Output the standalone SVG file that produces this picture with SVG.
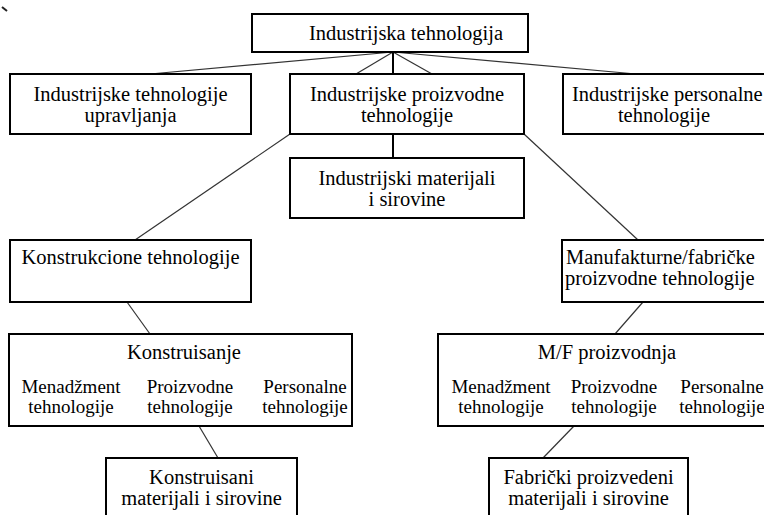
<svg xmlns="http://www.w3.org/2000/svg" width="764" height="515" viewBox="0 0 764 515">
<style>
.box{fill:#fff;stroke:#000;stroke-width:2}
text{font-family:'Liberation Serif','DejaVu Serif','Noto Serif',serif;fill:#000;text-anchor:middle}
.t{font-size:20.5px}
.s{font-size:19px}
.ln{stroke:#333;stroke-width:1.2;fill:none}
.lv{stroke:#000;stroke-width:2;fill:none}
</style>
<rect width="764" height="515" fill="#fff"/>
<path d="M2,7 L7,11" stroke="#222" stroke-width="2"/>
<g id="connectors">
<line class="ln" x1="393" y1="52" x2="150" y2="74"/>
<line class="ln" x1="393" y1="52" x2="636" y2="74"/>
<line class="ln" x1="393" y1="52" x2="356" y2="74"/>
<line class="ln" x1="393" y1="52" x2="432" y2="74"/>
<line class="lv" x1="393" y1="52" x2="393" y2="74"/>
<line class="lv" x1="393" y1="134" x2="393" y2="158"/>
<line class="ln" x1="290" y1="134" x2="135" y2="240"/>
<line class="ln" x1="524" y1="134" x2="638" y2="240"/>
<line class="ln" x1="127" y1="302" x2="150" y2="334"/>
<line class="ln" x1="643" y1="302" x2="615" y2="334"/>
<line class="ln" x1="199" y1="426" x2="218" y2="458"/>
<line class="ln" x1="574" y1="426" x2="543" y2="458"/>
</g>
<g font-family="Liberation Serif, DejaVu Serif, serif">
<g id="n-root">
<rect class="box" x="252" y="14" width="276" height="38"/>
<text class="t" x="406" y="39.5">Industrijska tehnologija</text>
</g>
<g id="n-upravljanja">
<rect class="box" x="10" y="74" width="241" height="60"/>
<text class="t" x="130.5" y="100.5">Industrijske tehnologije</text>
<text class="t" x="130.5" y="121.5">upravljanja</text>
</g>
<g id="n-proizvodne">
<rect class="box" x="290" y="74" width="234" height="60"/>
<text class="t" x="407" y="100.5">Industrijske proizvodne</text>
<text class="t" x="407" y="121.5">tehnologije</text>
</g>
<g id="n-personalne">
<rect class="box" x="563" y="74" width="210" height="60"/>
<text class="t" x="572" y="100.5" style="text-anchor:start">Industrijske personalne</text>
<text class="t" x="664" y="121.5">tehnologije</text>
</g>
<g id="n-materijali">
<rect class="box" x="290" y="158" width="234" height="60"/>
<text class="t" x="407" y="184.5">Industrijski materijali</text>
<text class="t" x="407" y="205.5">i sirovine</text>
</g>
<g id="n-konstrukcione">
<rect class="box" x="10" y="240" width="241" height="62"/>
<text class="t" x="130.5" y="264">Konstrukcione tehnologije</text>
</g>
<g id="n-manufakturne">
<rect class="box" x="562" y="240" width="210" height="62"/>
<text class="t" x="566" y="264" style="text-anchor:start">Manufakturne/fabričke</text>
<text class="t" x="565" y="285" style="text-anchor:start">proizvodne tehnologije</text>
</g>
<g id="n-konstruisanje">
<rect class="box" x="9" y="334" width="343" height="92"/>
<text class="t" x="184" y="359">Konstruisanje</text>
<text class="s" x="71" y="393">Menadžment</text>
<text class="s" x="71" y="413">tehnologije</text>
<text class="s" x="190" y="393">Proizvodne</text>
<text class="s" x="190" y="413">tehnologije</text>
<text class="s" x="305" y="393">Personalne</text>
<text class="s" x="305" y="413">tehnologije</text>
</g>
<g id="n-mf">
<rect class="box" x="438" y="334" width="340" height="92"/>
<text class="t" x="607" y="359">M/F proizvodnja</text>
<text class="s" x="501" y="393">Menadžment</text>
<text class="s" x="501" y="413">tehnologije</text>
<text class="s" x="614" y="393">Proizvodne</text>
<text class="s" x="614" y="413">tehnologije</text>
<text class="s" x="722" y="393">Personalne</text>
<text class="s" x="722" y="413">tehnologije</text>
</g>
<g id="n-konstruisani">
<rect class="box" x="106" y="458" width="191" height="70"/>
<text class="t" x="201.5" y="484">Konstruisani</text>
<text class="t" x="201.5" y="505">materijali i sirovine</text>
</g>
<g id="n-fabricki">
<rect class="box" x="489" y="458" width="199" height="70"/>
<text class="t" x="588.5" y="484">Fabrički proizvedeni</text>
<text class="t" x="588.5" y="505">materijali i sirovine</text>
</g>
</g>
</svg>
